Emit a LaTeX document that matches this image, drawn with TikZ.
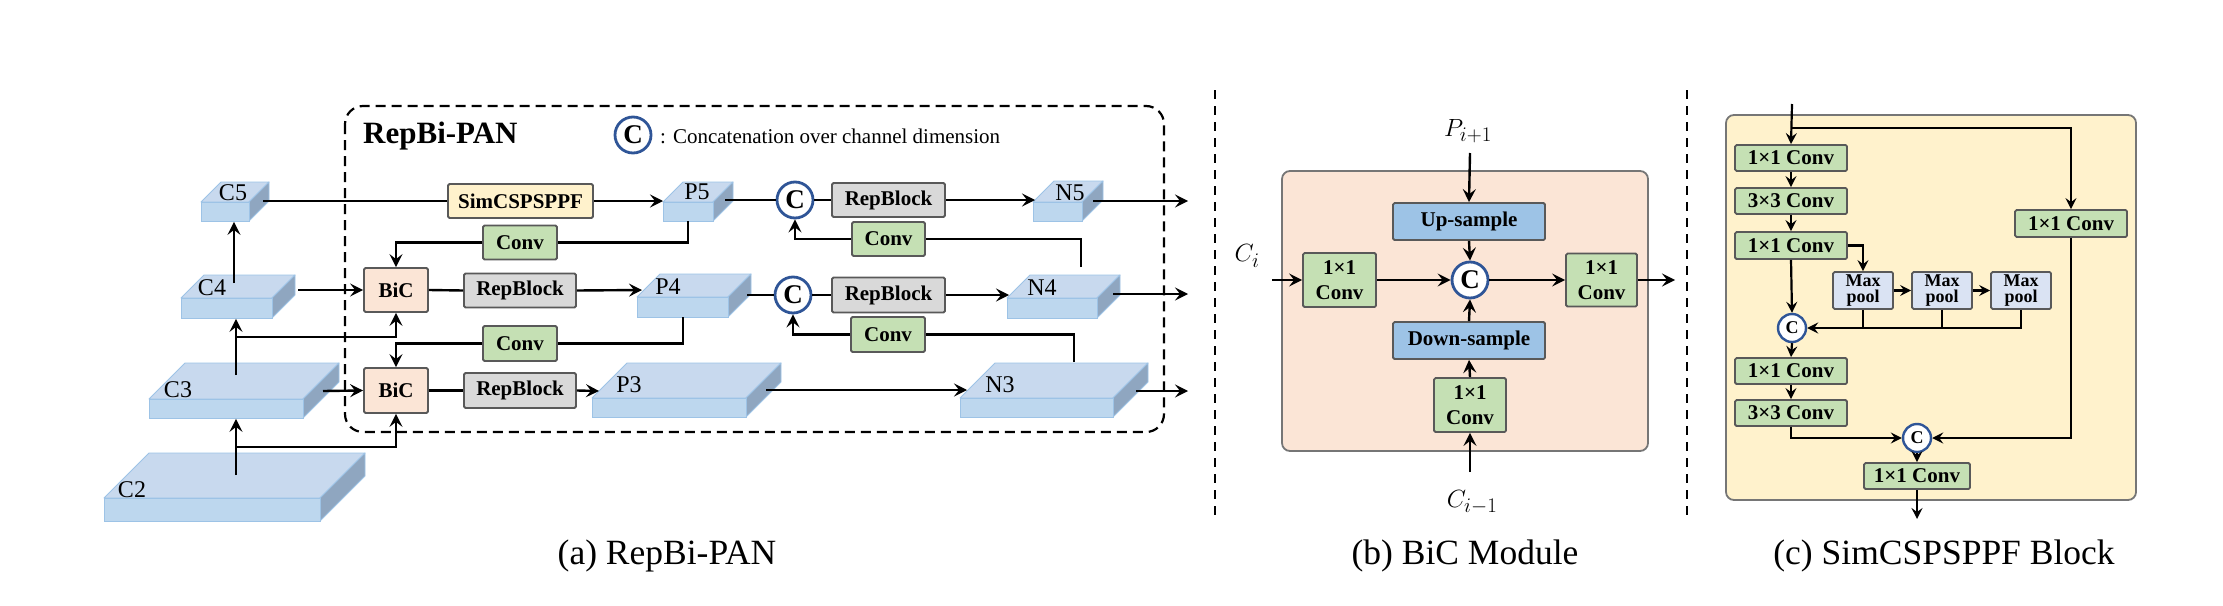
\documentclass[tikz,border=0pt]{standalone}
\usepackage{fontspec}
\setmainfont{Liberation Serif}
\usetikzlibrary{arrows.meta,calc}
\definecolor{convg}{HTML}{C5E0B4}
\definecolor{repg}{HTML}{D9D9D9}
\definecolor{simy}{HTML}{FFF2CC}
\definecolor{bicp}{HTML}{FBE5D6}
\definecolor{sampb}{HTML}{9DC3E6}
\definecolor{poolb}{HTML}{DAE3F3}
\definecolor{edgeg}{HTML}{595959}
\definecolor{bgedge}{HTML}{767676}
\definecolor{cblue}{HTML}{2F5597}
\definecolor{cubefr}{HTML}{BDD7EE}
\definecolor{cubetp}{HTML}{C8D9EE}
\definecolor{cubesd}{HTML}{8FA6C0}
\definecolor{cubeln}{HTML}{9DC3E6}
\newcommand{\mycube}[9]{%
  \draw[cubeedge, fill=cubetp] (#2,#3) -- ++(#6,-#6) -- ++(#4,0) -- ++(-#6,#6) -- cycle;
  \draw[cubeedge, fill=cubesd] (#2+#4,#3) -- ++(#6,-#6) -- ++(0,#5) -- ++(-#6,#6) -- cycle;
  \node[cubefront, minimum width=#4pt, minimum height=#5pt, anchor=north west] (#1) at (#2,#3) {};
  \node[cubelabel] (#1-l) at (#7,#8) {#9};
}
\begin{document}
\begin{tikzpicture}[x=1pt,y=-1pt,
  cubeedge/.style={draw=cubeln, line width=0.9pt, line join=round},
  cubefront/.style={draw=cubeln, line width=0.9pt, fill=cubefr, inner sep=0pt, rectangle},
  cubelabel/.style={inner sep=0pt, font=\fontsize{24}{26}\selectfont},
  blk/.style={draw=edgeg, line width=1.8pt, rounded corners=1.5pt, inner sep=0pt, align=center, font=\bfseries\fontsize{21}{25}\selectfont},
  convbox/.style={blk, fill=convg},
  repbox/.style={blk, fill=repg},
  simbox/.style={blk, fill=simy},
  bicbox/.style={blk, fill=bicp},
  sampbox/.style={blk, fill=sampb},
  poolbox/.style={blk, fill=poolb, font=\bfseries\fontsize{18}{16.5}\selectfont},
  ln/.style={line width=2.4pt},
  arr/.style={ln, -{Stealth[length=13pt,width=13pt,inset=5pt]}},
  sln/.style={line width=2.2pt},
  sarr/.style={sln, -{Stealth[length=11pt,width=11pt,inset=4pt]}},
  cat/.style={circle, draw=cblue, line width=2.8pt, fill=white, inner sep=0pt, minimum size=36pt, font=\bfseries\fontsize{27}{28}\selectfont},
  scat/.style={cat, minimum size=28pt, line width=2.4pt, font=\bfseries\fontsize{18}{20}\selectfont},
  dsh/.style={line width=2.2pt, dash pattern=on 10pt off 6pt},
  caption/.style={inner sep=0pt, font=\fontsize{35.5}{40}\selectfont, anchor=base},
  mathlbl/.style={inner sep=0pt, font=\fontsize{30}{34}\selectfont},
  bgpanel/.style={draw=bgedge, line width=1.8pt, rounded corners=8pt},
]
\useasboundingbox (0,0) rectangle (2223,605);

% ---------------- Panel (a) ----------------
\draw[dsh, rounded corners=18pt] (345,106) rectangle (1164,432);
\node[anchor=west, inner sep=0pt, font=\bfseries\fontsize{31}{34}\selectfont] (title) at (363,136) {RepBi-PAN};
\node[cat] (legc) at (633,135) {C};
\node[anchor=west, inner sep=0pt, font=\fontsize{21}{24}\selectfont] (legt) at (660,136) {: Concatenation over channel dimension};

\mycube{C5}{201}{202}{48}{19}{20}{233}{193}{C5}
\mycube{C4}{181}{298}{91}{20}{23}{212}{288}{C4}
\mycube{C3}{149}{399}{154}{19}{36}{178}{390}{C3}
\mycube{C2}{104}{498}{216}{23}{45}{132}{490}{C2}
\mycube{P5}{663}{202}{50}{19}{20}{697}{192}{P5}
\mycube{P4}{637}{297}{91}{20}{23}{668}{287}{P4}
\mycube{P3}{592}{398}{154}{19}{35}{629}{385}{P3}
\mycube{N5}{1033}{202}{49}{19}{21}{1070}{193}{N5}
\mycube{N4}{1007}{298}{90}{20}{23}{1042}{288}{N4}
\mycube{N3}{960}{398}{153}{19}{35}{1000}{385}{N3}

\node[simbox, minimum width=145pt, minimum height=34pt] (sim) at (520.5,201) {SimCSPSPPF};
\node[convbox, minimum width=74pt, minimum height=34pt] (conv1) at (520,242.5) {Conv};
\node[bicbox, minimum width=64pt, minimum height=44pt] (bic1) at (396,290) {BiC};
\node[repbox, minimum width=112pt, minimum height=34pt] (rep1) at (520,290.5) {RepBlock};
\node[convbox, minimum width=74pt, minimum height=35pt] (conv2) at (520,343.5) {Conv};
\node[bicbox, minimum width=64pt, minimum height=45pt] (bic2) at (396,390.5) {BiC};
\node[repbox, minimum width=112pt, minimum height=35pt] (rep2) at (520,390.5) {RepBlock};
\node[cat] (cc1) at (795,200) {C};
\node[repbox, minimum width=113pt, minimum height=34pt] (rep3) at (888.5,200) {RepBlock};
\node[convbox, minimum width=73pt, minimum height=34pt] (conv3) at (888.5,239) {Conv};
\node[cat] (cc2) at (793,295) {C};
\node[repbox, minimum width=113pt, minimum height=35pt] (rep4) at (888.5,295) {RepBlock};
\node[convbox, minimum width=74pt, minimum height=35pt] (conv4) at (888,334.5) {Conv};

\coordinate (c4up) at (234,283);
\coordinate (c5r) at (263,201);
\coordinate (p5r) at (725,200);
\coordinate (n5in) at (1035,200);
\coordinate (n5r) at (1093,201);
\coordinate (n5o) at (1188,201);
\coordinate (p5d) at (688,221);
\coordinate (c4r) at (298,290);
\coordinate (p4in) at (642,290);
\coordinate (c3up) at (236,375);
\coordinate (br1) at (236,337);
\coordinate (p4r) at (747,295);
\coordinate (n4in) at (1009,295);
\coordinate (n4r) at (1113,294);
\coordinate (n4o) at (1188,294);
\coordinate (n4u) at (1081,267);
\coordinate (p4d) at (683,317);
\coordinate (c3r) at (323,391);
\coordinate (p3in) at (599,391);
\coordinate (p3r) at (766,390);
\coordinate (n3in) at (967,390);
\coordinate (n3r) at (1136,391);
\coordinate (n3o) at (1188,391);
\coordinate (n3u) at (1074,362);
\coordinate (c2up) at (236,475);
\coordinate (br2) at (236,447);

\draw[arr] (c4up) -- (c4up |- C5.south);
\draw[ln] (c5r) -- (sim.west);
\draw[arr] (sim.east) -- (sim.east -| P5.west);
\draw[ln] (p5r) -- (cc1.west);
\draw[ln] (cc1.east) -- (rep3.west);
\draw[arr] (rep3.east) -- (n5in);
\draw[arr] (n5r) -- (n5o);
\draw[ln] (p5d) |- (conv1.east);
\draw[arr] (conv1.west) -| (bic1.north);
\draw[arr] (c4r) -- (bic1.west);
\draw[ln] (bic1.east) -- (rep1.west);
\draw[arr] (rep1.east) -- (p4in);
\draw[arr] (c3up) -- (c3up |- C4.south);
\draw[arr] (br1) -| (bic1.south);
\draw[ln] (p4r) -- (cc2.west);
\draw[ln] (cc2.east) -- (rep4.west);
\draw[arr] (rep4.east) -- (n4in);
\draw[arr] (n4r) -- (n4o);
\draw[ln] (n4u) |- (conv3.east);
\draw[arr] (conv3.west) -| (cc1.south);
\draw[ln] (p4d) |- (conv2.east);
\draw[arr] (conv2.west) -| (bic2.north);
\draw[arr] (c3r) -- (bic2.west);
\draw[ln] (bic2.east) -- (rep2.west);
\draw[arr] (rep2.east) -- (p3in);
\draw[arr] (p3r) -- (n3in);
\draw[arr] (n3r) -- (n3o);
\draw[ln] (n3u) |- (conv4.east);
\draw[arr] (conv4.west) -| (cc2.south);
\draw[arr] (c2up) -- (c2up |- C3.south);
\draw[arr] (br2) -| (bic2.south);

% separators
\draw[line width=2.2pt, dash pattern=on 9pt off 7pt] (1215,90) -- (1215,520);
\draw[line width=2.2pt, dash pattern=on 9pt off 7pt] (1687,90) -- (1687,520);

% ---------------- Panel (b) ----------------
\draw[bgpanel, fill=bicp] (1282,171) rectangle (1648,451);
\node[mathlbl] (pin) at (1468,131) {$P_{i+1}$};
\node[mathlbl] (cin) at (1247,256) {$C_{i}$};
\node[mathlbl] (cmin) at (1472,502) {$C_{i-1}$};
\node[sampbox, minimum width=152pt, minimum height=37pt] (up) at (1469,221.5) {Up-sample};
\node[sampbox, minimum width=152pt, minimum height=37pt] (down) at (1469,340.5) {Down-sample};
\node[convbox, minimum width=73pt, minimum height=54pt] (lconv) at (1339.5,280) {1×1\\Conv};
\node[convbox, minimum width=71pt, minimum height=53pt] (rconv) at (1601.5,280) {1×1\\Conv};
\node[convbox, minimum width=72pt, minimum height=54pt] (bconv) at (1470,405) {1×1\\Conv};
\node[cat] (cc3) at (1470,280) {C};
\coordinate (pinl) at (1470,153);
\coordinate (cinl) at (1272,280);
\coordinate (bout) at (1675,280);
\coordinate (cminl) at (1470,472);
\draw[arr] (pinl) -- (up.north);
\draw[arr] (up.south) -- (cc3.north);
\draw[arr] (cinl) -- (lconv.west);
\draw[arr] (lconv.east) -- (cc3.west);
\draw[arr] (cc3.east) -- (rconv.west);
\draw[arr] (rconv.east) -- (bout);
\draw[arr] (down.north) -- (cc3.south);
\draw[arr] (bconv.north) -- (down.south);
\draw[arr] (cminl) -- (bconv.south);

% ---------------- Panel (c) ----------------
\draw[bgpanel, fill=simy] (1726,115) rectangle (2136,500);
\node[convbox, minimum width=112pt, minimum height=26pt] (ca) at (1791,158) {1×1 Conv};
\node[convbox, minimum width=112pt, minimum height=26pt] (cb) at (1791,201) {3×3 Conv};
\node[convbox, minimum width=112pt, minimum height=27pt] (cc) at (1791,245.5) {1×1 Conv};
\node[convbox, minimum width=112pt, minimum height=26pt] (cd) at (1791,371) {1×1 Conv};
\node[convbox, minimum width=112pt, minimum height=26pt] (ce) at (1791,413) {3×3 Conv};
\node[convbox, minimum width=112pt, minimum height=27pt] (cr) at (2071,223.5) {1×1 Conv};
\node[convbox, minimum width=106pt, minimum height=26pt] (cf) at (1917,476) {1×1 Conv};
\node[poolbox, minimum width=60pt, minimum height=37pt] (mp1) at (1863,290.5) {Max\\pool};
\node[poolbox, minimum width=60pt, minimum height=37pt] (mp2) at (1942,290.5) {Max\\pool};
\node[poolbox, minimum width=60pt, minimum height=37pt] (mp3) at (2021,290.5) {Max\\pool};
\node[scat] (cat1) at (1792,328) {C};
\node[scat] (cat2) at (1917,438) {C};
\coordinate (cin2) at (1792,104);
\coordinate (cbr) at (1792,128);
\coordinate (cout) at (1917,519);
\draw[sarr] (cin2) -- (ca.north);
\draw[sarr] (cbr) -| (cr.north);
\draw[sarr] (ca.south) -- (cb.north);
\draw[sarr] (cb.south) -- (cc.north);
\draw[sarr] (cc.east) -| (mp1.north);
\draw[sarr] (mp1.east) -- (mp2.west);
\draw[sarr] (mp2.east) -- (mp3.west);
\draw[sarr] (cc.south) -- (cat1.north);
\draw[sln] (mp1.south) -- (mp1.south |- cat1.east);
\draw[sln] (mp2.south) -- (mp2.south |- cat1.east);
\draw[sarr] (mp3.south) |- (cat1.east);
\draw[sarr] (cat1.south) -- (cd.north);
\draw[sarr] (cd.south) -- (ce.north);
\draw[sarr] (ce.south) |- (cat2.west);
\draw[sarr] (cr.south) |- (cat2.east);
\draw[sarr] (cat2.south) -- (cf.north);
\draw[sarr] (cf.south) -- (cout);

% captions
\node[caption] (capa) at (667,564) {(a) RepBi-PAN};
\node[caption] (capb) at (1465,564) {(b) BiC Module};
\node[caption] (capc) at (1944,564) {(c) SimCSPSPPF Block};
\end{tikzpicture}
\end{document}
